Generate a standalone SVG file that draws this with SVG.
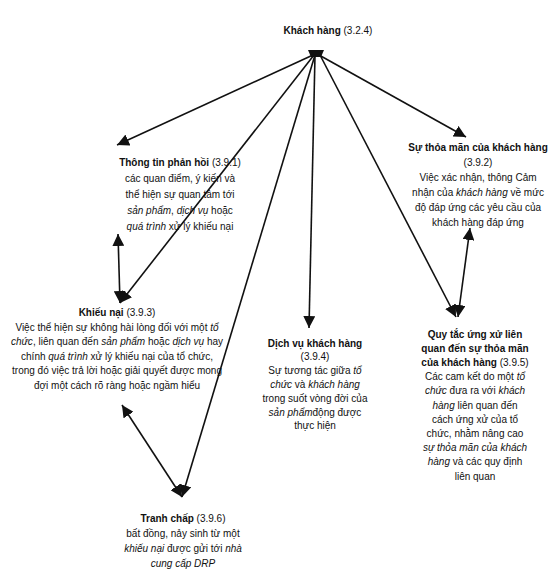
<svg xmlns="http://www.w3.org/2000/svg" width="554" height="580" viewBox="0 0 554 580">
<style>
text{font-family:"Liberation Sans",Arial,sans-serif;font-size:10px;fill:#111;text-anchor:middle}
.b{font-weight:bold}
.i{font-style:italic}
.ln{stroke:#111;stroke-width:1.6;fill:none}
</style>
<defs>
<marker id="ah" markerUnits="userSpaceOnUse" markerWidth="12" markerHeight="12" refX="10" refY="5" orient="auto-start-reverse" viewBox="0 0 10 10">
<path d="M0,0 L10,5 L0,10 z" fill="#111"/>
</marker>
</defs>
<rect width="554" height="580" fill="#fff"/>
<g id="connectors">
<path d="M308,50 L324,50 L321,57 L311,57 z" fill="#111"/>
<line class="ln" x1="313" y1="55" x2="117" y2="145" marker-end="url(#ah)"/>
<line class="ln" x1="314" y1="55" x2="120" y2="303" marker-end="url(#ah)"/>
<line class="ln" x1="315" y1="55" x2="309" y2="328" marker-end="url(#ah)"/>
<line class="ln" x1="315" y1="55" x2="182" y2="497" marker-end="url(#ah)"/>
<line class="ln" x1="319" y1="55" x2="466" y2="137" marker-end="url(#ah)"/>
<line class="ln" x1="320" y1="55" x2="456" y2="317" marker-end="url(#ah)"/>
<line class="ln" x1="118" y1="234" x2="120" y2="303" marker-start="url(#ah)" marker-end="url(#ah)"/>
<line class="ln" x1="122" y1="405" x2="182" y2="497" marker-start="url(#ah)" marker-end="url(#ah)"/>
<line class="ln" x1="470" y1="228" x2="458" y2="317" marker-start="url(#ah)" marker-end="url(#ah)"/>
</g>
<g id="khach-hang">
<text x="328" y="34"><tspan class="b">Khách hàng</tspan> (3.2.4)</text>
</g>
<g id="thong-tin-phan-hoi">
<text x="180" y="166"><tspan class="b">Thông tin phản hồi</tspan> (3.9.1)</text>
<text x="180" y="182">các quan điểm, ý kiến và</text>
<text x="180" y="198">thể hiện sự quan tâm tới</text>
<text x="180" y="214"><tspan class="i">sản phẩm</tspan>, <tspan class="i">dịch vụ</tspan> hoặc</text>
<text x="180" y="230"><tspan class="i">quá trình</tspan> xử lý khiếu nại</text>
</g>
<g id="su-thoa-man">
<text x="478" y="151" class="b">Sự thỏa mãn của khách hàng</text>
<text x="478" y="166">(3.9.2)</text>
<text x="478" y="181">Việc xác nhận, thông Cảm</text>
<text x="478" y="196">nhận của <tspan class="i">khách hàng</tspan> về mức</text>
<text x="478" y="211">độ đáp ứng các yêu cầu của</text>
<text x="478" y="226">khách hàng đáp ứng</text>
</g>
<g id="khieu-nai">
<text x="117" y="316"><tspan class="b">Khiếu nại</tspan> (3.9.3)</text>
<text x="117" y="330.5">Việc thể hiện sự không hài lòng đối với một <tspan class="i">tổ</tspan></text>
<text x="117" y="345"><tspan class="i">chức</tspan>, liên quan đến <tspan class="i">sản phẩm</tspan> hoặc <tspan class="i">dịch vụ</tspan>  hay</text>
<text x="117" y="359.5">chính <tspan class="i">quá trình</tspan> xử lý khiếu nại của tổ chức,</text>
<text x="117" y="374">trong đó việc trả lời hoặc giải quyết được mong</text>
<text x="117" y="388.5">đợi một cách rõ ràng hoặc ngầm hiểu</text>
</g>
<g id="dich-vu-khach-hang">
<text x="315" y="346.5" class="b">Dịch vụ khách hàng</text>
<text x="315" y="360.3">(3.9.4)</text>
<text x="315" y="374.1">Sự tương tác giữa <tspan class="i">tổ</tspan></text>
<text x="315" y="387.9"><tspan class="i">chức</tspan> và <tspan class="i">khách hàng</tspan></text>
<text x="315" y="401.7">trong suốt vòng đời của</text>
<text x="315" y="415.5"><tspan class="i">sản phẩm</tspan>động được</text>
<text x="315" y="429.3">thực hiện</text>
</g>
<g id="quy-tac">
<text x="475" y="337.5" class="b">Quy tắc ứng xử liên</text>
<text x="475" y="351.7" class="b">quan đến sự thỏa mãn</text>
<text x="475" y="365.9"><tspan class="b">của khách hàng</tspan> (3.9.5)</text>
<text x="475" y="380.1">Các cam kết do một <tspan class="i">tổ</tspan></text>
<text x="475" y="394.3"><tspan class="i">chức</tspan> đưa ra với <tspan class="i">khách</tspan></text>
<text x="475" y="408.5"><tspan class="i">hàng</tspan> liên quan đến</text>
<text x="475" y="422.7">cách ứng xử  của tổ</text>
<text x="475" y="436.9">chức, nhằm nâng cao</text>
<text x="475" y="451.1" class="i">sự thỏa mãn của khách</text>
<text x="475" y="465.3"><tspan class="i">hàng</tspan> và các quy định</text>
<text x="475" y="479.5">liên quan</text>
</g>
<g id="tranh-chap">
<text x="183" y="521.5"><tspan class="b">Tranh chấp</tspan> (3.9.6)</text>
<text x="183" y="536.5">bất đồng, nảy sinh từ một</text>
<text x="183" y="551.5"><tspan class="i">khiếu nại</tspan>  được gửi tới <tspan class="i">nhà</tspan></text>
<text x="183" y="566.5" class="i">cung cấp DRP</text>
</g>
</svg>
